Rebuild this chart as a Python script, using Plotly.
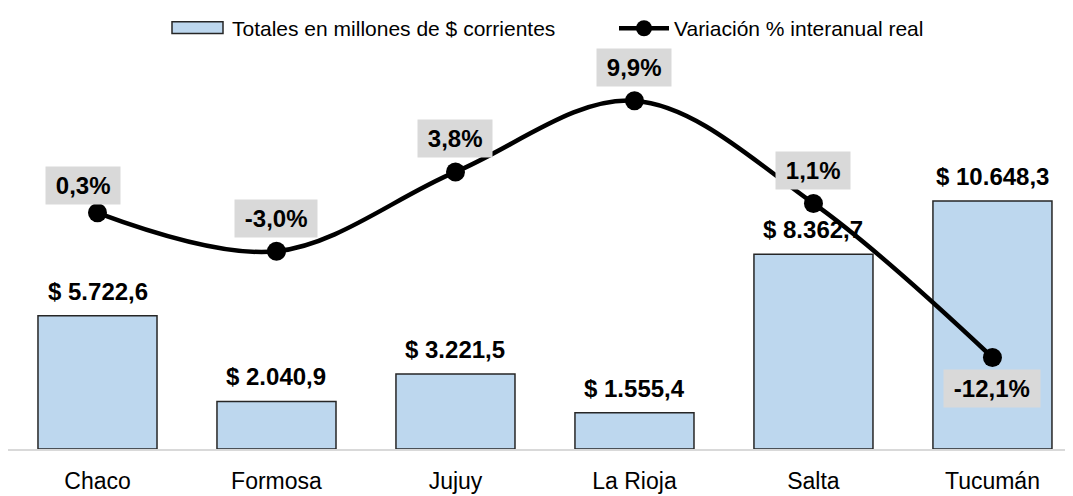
import plotly.graph_objects as go

provincias = ["Chaco", "Formosa", "Jujuy", "La Rioja", "Salta", "Tucumán"]
totales = [5722.6, 2040.9, 3221.5, 1555.4, 8362.7, 10648.3]
variacion = [0.3, -3.0, 3.8, 9.9, 1.1, -12.1]
serie_barras = "Totales en millones de $ corrientes"
serie_linea = "Variación % interanual real"

# label offsets (style, pixels) for the % labels
label_xshift = [-15, 0, 0, 0, 0, 0]
label_yshift = [27, 33, 33, 33, 33, -31]

def fmt_es(v, dec=1):
    s = f"{v:,.{dec}f}"
    return s.replace(",", "X").replace(".", ",").replace("X", ".")

xs = list(range(len(provincias)))
FONT = "Liberation Sans, Arial, sans-serif"
BAR_FILL = "#bdd7ee"
BAR_EDGE = "#262626"

# page is offset by 8px (body margin); margins compensate
ML, MR, MT, MB = 0, 8, 42, 55
PW = 1073 - ML - MR
PH = 496 - MT - MB

def px_x(p):  # figure pixel -> paper fraction
    return (p - ML) / PW

def px_y(p):
    return 1 - (p - MT) / PH

fig = go.Figure()
fig.add_trace(go.Bar(
    x=xs, y=totales, name=serie_barras,
    marker=dict(color=BAR_FILL, line=dict(color=BAR_EDGE, width=1.5)),
    width=0.665, yaxis="y", showlegend=False,
))
fig.add_trace(go.Scatter(
    x=xs, y=variacion, name=serie_linea,
    mode="lines+markers", line=dict(color="black", width=4.5, shape="spline", smoothing=1),
    marker=dict(color="black", size=19), yaxis="y2", showlegend=True,
))

annotations = []
for x, v in zip(xs, totales):
    annotations.append(dict(
        x=x, y=v, xref="x", yref="y", text=f"<b>$ {fmt_es(v)}</b>",
        showarrow=False, yanchor="bottom", yshift=9,
        font=dict(family=FONT, size=24, color="black"),
    ))
for x, v, dx, dy in zip(xs, variacion, label_xshift, label_yshift):
    annotations.append(dict(
        x=x, y=v, xref="x", yref="y2", text=f"\u2009<b>{fmt_es(v)}%</b>\u2009",
        showarrow=False, yanchor="middle", xshift=dx, yshift=dy,
        bgcolor="#d9d9d9", borderpad=5,
        font=dict(family=FONT, size=24, color="black"),
    ))

# legend entry for the bar series (wide rectangle swatch like the original)
annotations.append(dict(
    x=px_x(222), y=px_y(12), xref="paper", yref="paper", text=serie_barras,
    showarrow=False, xanchor="left", yanchor="middle",
    font=dict(family=FONT, size=21, color="black"),
))
shapes = [dict(
    type="rect", xref="paper", yref="paper",
    x0=px_x(164), x1=px_x(215), y0=px_y(17), y1=px_y(5),
    fillcolor=BAR_FILL, line=dict(color=BAR_EDGE, width=1.5),
)]

fig.update_layout(
    width=1073, height=496,
    margin=dict(l=ML, r=MR, t=MT, b=MB),
    plot_bgcolor="white", paper_bgcolor="white",
    font=dict(family=FONT, color="black"),
    xaxis=dict(
        tickmode="array", tickvals=xs, ticktext=provincias,
        range=[-0.5, 5.45], showgrid=False, zeroline=False,
        showline=True, linecolor="#d9d9d9", linewidth=1.5,
        ticks="", tickfont=dict(size=23, color="black"),
        ticklabelstandoff=11,
    ),
    yaxis=dict(range=[0, 16793], visible=False, showgrid=False),
    yaxis2=dict(range=[-19.94, 13.56], overlaying="y", visible=False, showgrid=False),
    showlegend=True,
    legend=dict(
        orientation="h", x=px_x(606), xanchor="left", y=px_y(12), yanchor="middle",
        yref="paper", font=dict(size=21, color="black"), itemwidth=50,
        bgcolor="rgba(0,0,0,0)",
    ),
    annotations=annotations,
    shapes=shapes,
)

fig.write_html("out.html")
